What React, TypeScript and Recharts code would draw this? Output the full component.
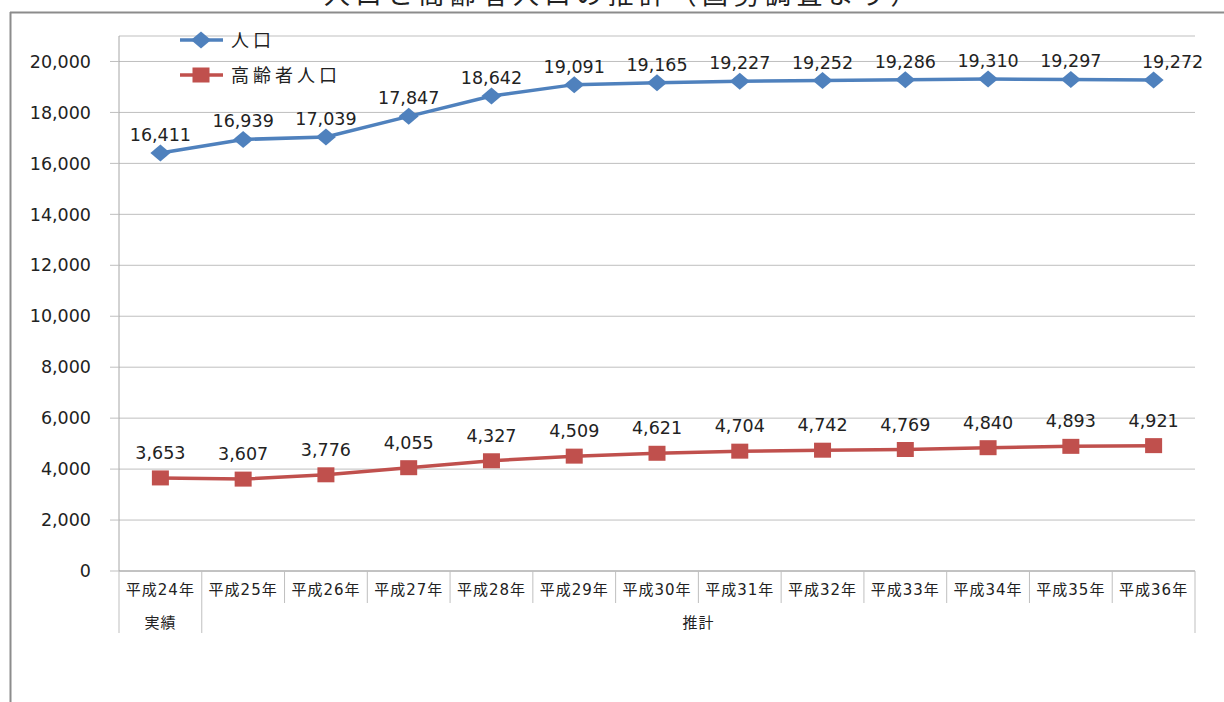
import { LineChart, Line, XAxis, YAxis, CartesianGrid, LabelList } from 'recharts';

const title = '人口と高齢者人口の推計（国勢調査より）';
const categories = [
  '平成24年', '平成25年', '平成26年', '平成27年', '平成28年', '平成29年', '平成30年',
  '平成31年', '平成32年', '平成33年', '平成34年', '平成35年', '平成36年',
];
const population = [16411, 16939, 17039, 17847, 18642, 19091, 19165, 19227, 19252, 19286, 19310, 19297, 19272];
const elderly = [3653, 3607, 3776, 4055, 4327, 4509, 4621, 4704, 4742, 4769, 4840, 4893, 4921];
const yTicks = [0, 2000, 4000, 6000, 8000, 10000, 12000, 14000, 16000, 18000, 20000];
const groupLabels = ['実績', '推計'];
const groupSpans = [1, 12];
const seriesNames = ['人口', '高齢者人口'];

const W = 1224;
const H = 702;
const LEFT = 119;
const RIGHT = 29;
const BW = (W - LEFT - RIGHT) / categories.length;
const BLUE = '#4F81BD';
const RED = '#C0504D';
const FONT = '"DejaVu Sans", "Noto Sans CJK JP", sans-serif';

const chartData = categories.map((c, i) => ({
  name: c,
  pop: population[i],
  old: elderly[i],
}));

const groupStarts = groupSpans.map((_, g) => groupSpans.slice(0, g).reduce((a, b) => a + b, 0));

const fmt = (v: number) => v.toLocaleString('en-US');

function CatTick(props: any) {
  const { x, y, payload } = props;
  const i = payload.index;
  const g = groupStarts.indexOf(i);
  const last = i === categories.length - 1;
  return (
    <g>
      <line x1={x - BW / 2} x2={x - BW / 2} y1={y} y2={g >= 0 ? y + 62 : y + 32} stroke="#BFBFBF" />
      {last && <line x1={x + BW / 2} x2={x + BW / 2} y1={y} y2={y + 62} stroke="#BFBFBF" />}
      <text x={x} y={y + 24} textAnchor="middle" fontSize={15} letterSpacing={1} fill="#222" fontFamily={FONT}>
        {payload.value}
      </text>
      {g >= 0 && (
        <text x={x + ((groupSpans[g] - 1) * BW) / 2} y={y + 57} textAnchor="middle" fontSize={15} letterSpacing={1} fill="#222" fontFamily={FONT}>
          {groupLabels[g]}
        </text>
      )}
    </g>
  );
}

function DiamondDot(props: any) {
  const { cx, cy } = props;
  return <path d={`M${cx - 10},${cy} L${cx},${cy - 8.5} L${cx + 10},${cy} L${cx},${cy + 8.5} Z`} fill={BLUE} />;
}

function SquareDot(props: any) {
  const { cx, cy } = props;
  return <rect x={cx - 8.5} y={cy - 7.5} width={17} height={15} fill={RED} />;
}

function makeLabel(off: number, lastDx: number) {
  return (props: any) => {
    const { x, y, value, index } = props;
    const dx = index === categories.length - 1 ? lastDx : 0;
    return (
      <text x={x + dx} y={y - off} textAnchor="middle" fontSize={17.5} fill="#222" fontFamily={FONT}>
        {fmt(value)}
      </text>
    );
  };
}

function Overlay() {
  const items = [
    { name: seriesNames[0], color: BLUE, y: 40, diamond: true },
    { name: seriesNames[1], color: RED, y: 75, diamond: false },
  ];
  return (
    <svg width={W} height={H} style={{ position: 'absolute', left: 0, top: 0, pointerEvents: 'none' }}>
      <text x={623} y={4} textAnchor="middle" fontSize={26} letterSpacing={5.5} fill="#222" fontFamily={FONT}>
        {title}
      </text>
      <line x1={10} x2={W} y1={12.5} y2={12.5} stroke="#8C8C8C" strokeWidth={2} />
      <line x1={10.5} x2={10.5} y1={12} y2={H} stroke="#8C8C8C" strokeWidth={2} />
      {items.map((it) => (
        <g key={it.name}>
          <line x1={180} x2={223} y1={it.y} y2={it.y} stroke={it.color} strokeWidth={3.5} />
          {it.diamond ? <DiamondDot cx={201} cy={it.y} /> : <SquareDot cx={201} cy={it.y} />}
          <text x={231} y={it.y + 7} fontSize={18} letterSpacing={4} fill="#222" fontFamily={FONT}>
            {it.name}
          </text>
        </g>
      ))}
    </svg>
  );
}

export default function App() {
  return (
    <div style={{ position: 'absolute', left: 0, top: 0, width: W, height: H, background: '#fff', overflow: 'hidden' }}>
      <LineChart width={W} height={H} data={chartData} margin={{ top: 36, right: RIGHT, bottom: 0, left: 0 }}>
        <CartesianGrid vertical={false} stroke="#BFBFBF" />
        <XAxis
          dataKey="name"
          scale="band"
          interval={0}
          height={131}
          tickSize={0}
          tickMargin={0}
          tickLine={false}
          axisLine={{ stroke: '#A6A6A6' }}
          tick={<CatTick />}
        />
        <YAxis
          width={LEFT}
          domain={[0, 21000]}
          ticks={yTicks}
          tickFormatter={fmt}
          tickSize={9}
          tickMargin={19}
          axisLine={{ stroke: '#A6A6A6' }}
          tickLine={{ stroke: '#BFBFBF' }}
          tick={{ fontSize: 17.5, fill: '#222', fontFamily: FONT }}
        />
        <Line
          dataKey="pop"
          stroke={BLUE}
          strokeWidth={3.5}
          dot={<DiamondDot />}
          activeDot={false}
          isAnimationActive={false}
        >
          <LabelList dataKey="pop" content={makeLabel(12, 19)} />
        </Line>
        <Line
          dataKey="old"
          stroke={RED}
          strokeWidth={3.5}
          dot={<SquareDot />}
          activeDot={false}
          isAnimationActive={false}
        >
          <LabelList dataKey="old" content={makeLabel(19, 0)} />
        </Line>
      </LineChart>
      <Overlay />
    </div>
  );
}
